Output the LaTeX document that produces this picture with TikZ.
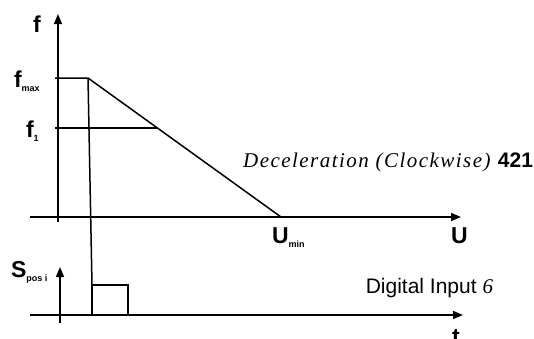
\documentclass[tikz,border=0pt]{standalone}
\usepackage{fontspec}
\setmainfont{Liberation Sans}
\newfontfamily\decofont[LetterSpace=7]{Liberation Serif}
\newfontfamily\digifont{Liberation Serif}
\usetikzlibrary{arrows.meta,positioning}

\newcommand{\lblsub}[1]{\raisebox{-4pt}{\fontsize{9}{10}\selectfont #1}}

\begin{document}
\begin{tikzpicture}[x=1pt,y=-1pt,
    every node/.style={inner sep=0pt,outer sep=0pt},
    lbl/.style    ={font=\bfseries\fontsize{23}{25}\selectfont,anchor=base west},
    note/.style   ={font=\fontsize{21}{23}\selectfont,anchor=base east},
    axis/.style   ={line width=1.6pt,-{Triangle[length=10pt,width=8pt]}},
    trace/.style  ={line width=1.5pt},
  ]
  \clip (0,0) rectangle (534,338);

  % Upper plot: f over U
  \coordinate (fO)   at (58,222);
  \coordinate (fTop) at (58,14);
  \coordinate (uL)   at (30,217);
  \coordinate (uR)   at (461,217);
  \draw[axis] (fO) -- (fTop);
  \draw[axis] (uL) -- (uR);

  \coordinate (fmaxL) at (55,78);
  \coordinate (fmaxR) at (88,78);
  \coordinate (umin)  at (281,217);
  \coordinate (f1L)   at (55,128);
  \coordinate (f1R)   at (158,128);
  \draw[trace] (fmaxL) -- (fmaxR) -- (umin);
  \draw[trace] (f1L) -- (f1R);

  % Lower plot: switching signal over t
  \coordinate (sO)   at (60,323);
  \coordinate (sTop) at (60,267);
  \coordinate (tL)   at (30,315);
  \coordinate (tR)   at (463,315);
  \draw[axis] (sO) -- (sTop);
  \draw[axis] (tL) -- (tR);

  \coordinate (pulseA) at (92,315);
  \coordinate (pulseB) at (92,285);
  \coordinate (pulseC) at (128,285);
  \coordinate (pulseD) at (128,315);
  \draw[trace] (fmaxR) -- (pulseB);
  \draw[trace] (pulseA) -- (pulseB) -- (pulseC) -- (pulseD);

  % Axis labels
  \node[lbl] (fLab)    at (33,32)  {f};
  \node[lbl] (fmaxLab) at (14,87)  {f\lblsub{max}};
  \node[lbl] (f1Lab)   at (26,137) {f\lblsub{1}};
  \node[lbl] (uminLab) at (272,243) {U\lblsub{min}};
  \node[lbl] (uLab)    at (451,243) {U};
  \node[lbl] (sLab)    at (11,277) {S\lblsub{pos i}};
  \node[lbl] (tLab)    at (452,344) {t};

  % Parameter notes
  \node[note] (decel) at (533,167)
    {{\decofont\itshape Deceleration (Clockwise)} \textbf{421}};
  \node[note] (digin) at (493,293) {Digital Input {\digifont\itshape 6}};
\end{tikzpicture}
\end{document}
